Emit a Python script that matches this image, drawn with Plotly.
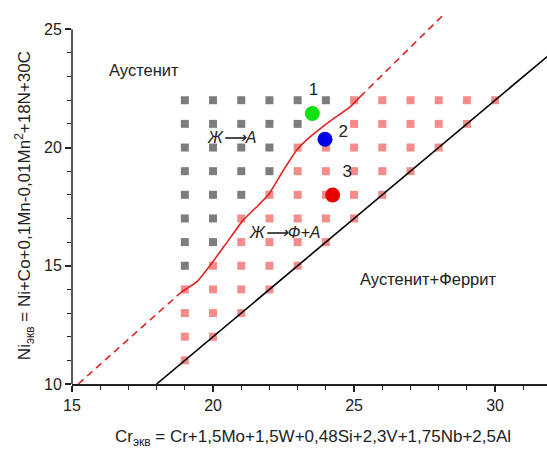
import plotly.graph_objects as go

# ---- data ----
x_range = [15, 31.84]
y_range = [10, 25.9]
x_ticks = [15, 20, 25, 30]
y_ticks = [10, 15, 20, 25]

grid_ni = [11, 12, 13, 14, 15, 16, 17, 18, 19, 20, 21, 22]
grid_cr_start = [19, 19, 19, 19, 19, 19, 19, 19, 19, 19, 19, 19]
gray_cr_max = [None, None, None, None, 19, 20, 20, 21, 22, 22, 23, 24]
red_cr_min = [19, 19, 19, 19, 20, 21, 21, 22, 23, 23, 25, 25]
red_cr_max = [19, 20, 21, 22, 23, 24, 25, 26, 27, 28, 29, 30]

# boundary Austenite / Austenite+Ferrite (Ni = Cr - 8)
black_cr = [18, 34]
black_ni = [10, 26]

# solidification boundary (solid part)
curve_cr = [18.89, 19.45, 19.95, 20.5, 21.07, 21.6, 21.96, 22.5, 22.97, 23.44, 24.2, 24.86, 25.21]
curve_ni = [13.9, 14.35, 15.1, 16.0, 16.93, 17.55, 18.0, 19.05, 19.9, 20.45, 21.16, 21.72, 22.14]
# dashed extrapolations
dash_low_cr = [15.22, 18.89]
dash_low_ni = [10.0, 13.9]
dash_up_cr = [25.21, 28.2]
dash_up_ni = [22.14, 25.65]

# specimens
spec_cr = [23.52, 23.97, 24.24]
spec_ni = [21.44, 20.35, 17.99]
spec_colors = ["#11e011", "#0000e6", "#e60000"]
spec_labels = ["1", "2", "3"]
label_cr = [23.56, 24.62, 24.76]
label_ni = [22.42, 20.62, 18.92]

FONT = "Arial, Liberation Sans, sans-serif"

gray_x, gray_y, red_x, red_y = [], [], [], []
for ni, c0, gmax, rmin, rmax in zip(grid_ni, grid_cr_start, gray_cr_max, red_cr_min, red_cr_max):
    if gmax is not None:
        for c in range(c0, gmax + 1):
            gray_x.append(c); gray_y.append(ni)
    for c in range(rmin, rmax + 1):
        red_x.append(c); red_y.append(ni)

fig = go.Figure()
fig.add_trace(go.Scatter(x=gray_x, y=gray_y, mode="markers",
                         marker=dict(symbol="square", size=8, color="#7d7d7d"),
                         showlegend=False, hoverinfo="skip"))
fig.add_trace(go.Scatter(x=red_x, y=red_y, mode="markers",
                         marker=dict(symbol="square", size=8, color="#f58c8c"),
                         showlegend=False, hoverinfo="skip"))
fig.add_trace(go.Scatter(x=black_cr, y=black_ni, mode="lines",
                         line=dict(color="black", width=1.6), showlegend=False))
fig.add_trace(go.Scatter(x=curve_cr, y=curve_ni, mode="lines",
                         line=dict(color="#e02222", width=1.6, shape="spline", smoothing=0.5),
                         showlegend=False))
fig.add_trace(go.Scatter(x=dash_low_cr, y=dash_low_ni, mode="lines",
                         line=dict(color="#e02222", width=1.6, dash="7px,5px"), showlegend=False))
fig.add_trace(go.Scatter(x=dash_up_cr, y=dash_up_ni, mode="lines",
                         line=dict(color="#e02222", width=1.6, dash="7px,5px"), showlegend=False))
fig.add_trace(go.Scatter(x=spec_cr, y=spec_ni, mode="markers",
                         marker=dict(size=15, color=spec_colors), showlegend=False))
fig.add_trace(go.Scatter(x=label_cr, y=label_ni, mode="text", text=spec_labels,
                         textfont=dict(family=FONT, size=17, color="#222"), showlegend=False))

annotations = [
    dict(x=16.23, y=23.27, text="Аустенит", xanchor="left", yanchor="middle",
         showarrow=False, font=dict(family=FONT, size=16.5, color="#222")),
    dict(x=25.15, y=14.44, text="Аустенит+Феррит", xanchor="left", yanchor="middle",
         showarrow=False, font=dict(family=FONT, size=16.5, color="#222")),
    dict(x=19.72, y=20.42, text="<i>Ж⟶А</i>", xanchor="left", yanchor="middle",
         showarrow=False, font=dict(family=FONT, size=16, color="#222")),
    dict(x=21.2, y=16.4, text="<i>Ж⟶Ф+А</i>", xanchor="left", yanchor="middle",
         showarrow=False, font=dict(family=FONT, size=16, color="#222")),
    dict(xref="paper", yref="paper", x=(313 - 72) / 475, y=(384 - 438) / 376.3,
         text="Cr<sub>экв</sub> = Cr+1,5Mo+1,5W+0,48Si+2,3V+1,75Nb+2,5Al",
         xanchor="center", yanchor="middle", showarrow=False,
         font=dict(family=FONT, size=17, color="#222")),
    dict(xref="paper", yref="paper", x=(24 - 72) / 475, y=(384 - 206) / 376.3,
         text="Ni<sub>экв</sub> = Ni+Co+0,1Mn-0,01Mn<sup>2</sup>+18N+30C",
         textangle=-90, xanchor="center", yanchor="middle", showarrow=False,
         font=dict(family=FONT, size=17, color="#222")),
]

shapes = [
    dict(type="line", xref="paper", yref="y", x0=0, x1=0, y0=y_range[0], y1=25,
         line=dict(color="#222", width=1.5)),
]

fig.update_layout(
    width=547, height=450,
    margin=dict(l=72, r=0, t=7.7, b=66),
    paper_bgcolor="white", plot_bgcolor="white",
    annotations=annotations, shapes=shapes,
    xaxis=dict(range=x_range, tickvals=x_ticks, ticks="outside", ticklen=6, tickwidth=1.5,
               tickcolor="#222", showline=True, linecolor="#222", linewidth=1.5,
               showgrid=False, zeroline=False,
               tickfont=dict(family=FONT, size=16, color="#222"),
               minor=dict(dtick=1, tick0=15, ticks="outside", ticklen=4, tickwidth=1.2, tickcolor="#222")),
    yaxis=dict(range=y_range, tickvals=y_ticks, ticks="outside", ticklen=6, tickwidth=1.5,
               tickcolor="#222", showline=False, showgrid=False, zeroline=False,
               tickfont=dict(family=FONT, size=16, color="#222"),
               minor=dict(dtick=1, tick0=10, ticks="outside", ticklen=4, tickwidth=1.2, tickcolor="#222")),
)

fig.write_html("out.html")
